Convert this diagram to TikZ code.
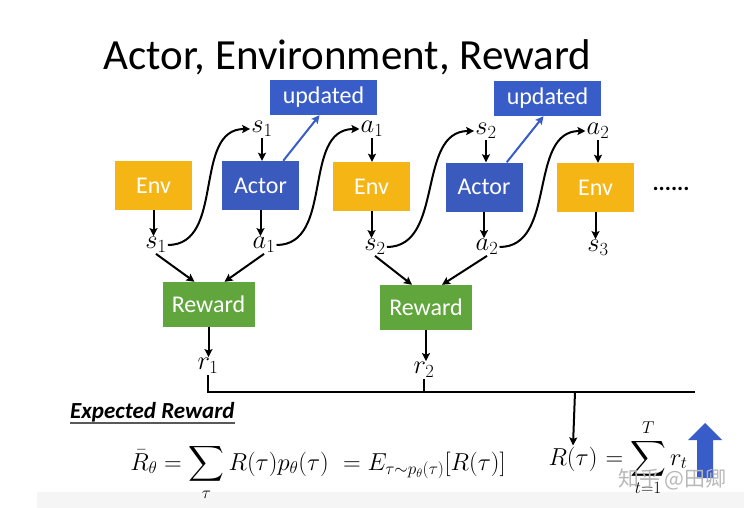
\RequirePackage{fix-cm}
\documentclass[tikz,border=0pt]{standalone}
\usepackage{amsmath}
\usepackage{fontspec}
\newfontfamily\slidefont{Carlito}
\newfontfamily\cjkfont{Noto Sans CJK SC}
\usetikzlibrary{positioning, arrows.meta}
\definecolor{envorange}{RGB}{245,181,20}
\definecolor{actorblue}{RGB}{58,90,190}
\definecolor{updblue}{RGB}{56,92,200}
\definecolor{rewardgreen}{RGB}{96,166,60}

\begin{document}
\begin{tikzpicture}[x=1pt, y=-1pt,
    box/.style={minimum width=77, minimum height=49, inner sep=0pt, text=white,
      font=\slidefont\fontsize{24}{28}\selectfont},
    lbl/.style={inner sep=1pt, font=\fontsize{26.5}{30}\selectfont},
    eqn/.style={inner sep=1pt, font=\fontsize{24.5}{28}\selectfont},
    arr/.style={line width=2pt, -{Stealth[length=8pt, width=8pt, inset=1.5pt]}}]
      \useasboundingbox (0,0) rectangle (744,508);
      \fill[black!4] (37,492) rectangle (744,508);
      % title
      \node[font=\slidefont\fontsize{43}{50}\selectfont, anchor=base] (title) at (347.5,70) {Actor, Environment, Reward};
      % boxes
      \node[box, fill=envorange] (env1) at (153.5,185.5) {Env};
      \node[box, fill=actorblue] (act1) at (260.5,185.5) {Actor};
      \node[box, fill=envorange] (env2) at (371.5,186.5) {Env};
      \node[box, fill=actorblue] (act2) at (484,187) {Actor};
      \node[box, fill=envorange] (env3) at (595.5,187.5) {Env};
      \node[box, fill=updblue, minimum width=107, minimum height=35] (upd1) at (323.5,97.5) {updated};
      \node[box, fill=updblue, minimum width=107, minimum height=35] (upd2) at (547.5,98.5) {updated};
      \node[box, fill=rewardgreen, minimum width=92, minimum height=45] (rew1) at (208.5,304.5) {Reward};
      \node[box, fill=rewardgreen, minimum width=92, minimum height=45] (rew2) at (426,307.5) {Reward};
      \node[font=\slidefont\bfseries\fontsize{23}{27}\selectfont] (dots) at (671,189) {......};
      % states and actions
      \node[lbl] (s1t) at (262,129) {$s_1$};
      \node[lbl] (a1t) at (372,129) {$a_1$};
      \node[lbl] (s2t) at (486,131) {$s_2$};
      \node[lbl] (a2t) at (598,131) {$a_2$};
      \node[lbl] (s1b) at (156,245) {$s_1$};
      \node[lbl] (a1b) at (264,245) {$a_1$};
      \node[lbl] (s2b) at (375,247) {$s_2$};
      \node[lbl] (a2b) at (487,247) {$a_2$};
      \node[lbl] (s3b) at (598,248) {$s_3$};
      \node[lbl] (r1) at (208,366) {$r_1$};
      \node[lbl] (r2) at (424,370) {$r_2$};
      % short arrows
      \draw[arr] (s1t.south) -- (s1t |- act1.north);
      \draw[arr] (a1t.south) -- (a1t |- env2.north);
      \draw[arr] (s2t.south) -- (s2t |- act2.north);
      \draw[arr] (a2t.south) -- (a2t |- env3.north);
      \draw[arr] (env1.south) -- (env1 |- s1b.north);
      \draw[arr] (act1.south) -- (act1 |- a1b.north);
      \draw[arr] (env2.south) -- (env2 |- s2b.north);
      \draw[arr] (act2.south) -- (act2 |- a2b.north);
      \draw[arr] (env3.south) -- (env3 |- s3b.north);
      % passing on
      \draw[arr] (s1b.east) .. controls +(58,0) and +(-58,0) .. (s1t.west);
      \draw[arr] (a1b.east) .. controls +(58,0) and +(-58,0) .. (a1t.west);
      \draw[arr] (s2b.east) .. controls +(58,0) and +(-58,0) .. (s2t.west);
      \draw[arr] (a2b.east) .. controls +(58,0) and +(-58,0) .. (a2t.west);
      % updates
      \draw[updblue, line width=2pt, -{Stealth[length=8pt, width=8pt, inset=1.5pt]}] ([xshift=-16pt]act1.north east) -- ([xshift=-4pt]upd1.south);
      \draw[updblue, line width=2pt, -{Stealth[length=8pt, width=8pt, inset=1.5pt]}] ([xshift=-16pt]act2.north east) -- ([xshift=-4pt]upd2.south);
      % rewards
      \draw[arr] (s1b.south) -- ([xshift=-14pt]rew1.north);
      \draw[arr] (a1b.south) -- ([xshift=16pt]rew1.north);
      \draw[arr] (s2b.south) -- ([xshift=-14pt]rew2.north);
      \draw[arr] (a2b.south) -- ([xshift=16pt]rew2.north);
      \draw[arr] (rew1.south) -- (rew1 |- r1.north);
      \draw[arr] (rew2.south) -- (rew2 |- r2.north);
      \coordinate (bus1) at (208,392);
      \coordinate (bus2) at (424,392);
      \coordinate (bus3) at (575,392);
      \coordinate (busend) at (695,392);
      \draw[line width=2pt] (r1.south) -- (bus1) -- (busend);
      \draw[line width=2pt] (r2.south) -- (bus2);
      % formulas
      \node[font=\slidefont\bfseries\itshape\fontsize{23}{27}\selectfont, anchor=base west, inner sep=0pt] (exp) at (70,418) {Expected Reward};
      \draw[black!65, line width=1.2pt] ([yshift=-5pt]exp.base west) -- ([yshift=-5pt]exp.base east);
      \node[eqn, anchor=base] (Rbar) at (318,470) {$\displaystyle \bar{R}_\theta = \sum_\tau R(\tau)p_\theta(\tau)\ = E_{\tau\sim p_\theta(\tau)}[R(\tau)]$};
      \node[eqn, anchor=base] (Rtau) at (573,465) {$R(\tau)$};
      \node[eqn, anchor=base west, inner sep=0pt] (Rsum) at (Rtau.base east) {$\displaystyle {}= \sum_{t=1}^{T} r_t$};
      \draw[arr] (bus3) -- (Rtau.north);
      \fill[updblue] (697,478) -- (697,440) -- (688,440) -- (705,423) -- (722,440) -- (713,440) -- (713,478) -- cycle;
      \node[text=black!28, font=\cjkfont\fontsize{21}{24}\selectfont, anchor=west, inner sep=0pt] (mark) at (618,479) {知乎 @田卿};
    \end{tikzpicture}
\end{document}
